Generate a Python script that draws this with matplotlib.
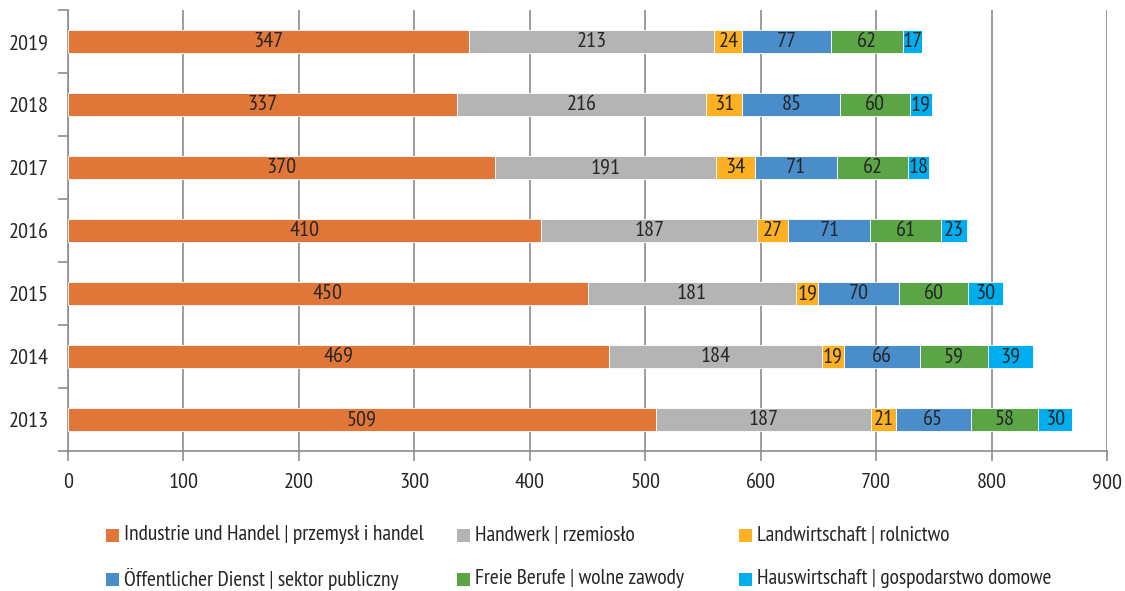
import matplotlib
matplotlib.use("Agg")
import matplotlib.pyplot as plt
from matplotlib import font_manager
from matplotlib.patches import Rectangle
import numpy as np

names = {f.name for f in font_manager.fontManager.ttflist}
prefs = ["PT Sans Narrow", "Fira Sans Condensed", "Roboto Condensed", "Asap Condensed",
         "Archivo Narrow", "Barlow Semi Condensed", "Cabin Condensed"]
fam = next((p for p in prefs if p in names), "DejaVu Sans")
plt.rcParams['font.family'] = [fam, 'DejaVu Sans']

years = ["2013", "2014", "2015", "2016", "2017", "2018", "2019"]
series_names = [
    "Industrie und Handel | przemysł i handel",
    "Handwerk | rzemiosło",
    "Landwirtschaft | rolnictwo",
    "Öffentlicher Dienst | sektor publiczny",
    "Freie Berufe | wolne zawody",
    "Hauswirtschaft | gospodarstwo domowe",
]
industrie = [509, 469, 450, 410, 370, 337, 347]
handwerk = [187, 184, 181, 187, 191, 216, 213]
landwirtschaft = [21, 19, 19, 27, 34, 31, 24]
oeffentlich = [65, 66, 70, 71, 71, 85, 77]
freie = [58, 59, 60, 61, 62, 60, 62]
haus = [30, 39, 30, 23, 18, 19, 17]
colors = ["#E07638", "#B4B4B4", "#FDB022", "#4A8DCB", "#5BA547", "#00AEEF"]

data = [industrie, handwerk, landwirtschaft, oeffentlich, freie, haus]

FS = 16
W, H = 1125, 591
fig = plt.figure(figsize=(W/100, H/100), dpi=100)
ax = fig.add_axes([68/W, 1-451/H, (1107-68)/W, (451-10)/H])

y = np.arange(len(years))
left = np.zeros(len(years))
txtc = "#262626"
for vals, c in zip(data, colors):
    vals = np.array(vals, dtype=float)
    ax.barh(y, vals, left=left, height=0.38, color=c, edgecolor="white", linewidth=0.6, zorder=3)
    for yi, (l, v) in enumerate(zip(left, vals)):
        ax.text(l + v/2, yi, f"{int(v)}", ha="center", va="center", fontsize=FS, color=txtc, zorder=4)
    left += vals

ax.set_xlim(0, 900)
ax.set_ylim(-0.5, len(years)-0.5)
ax.set_xticks(np.arange(0, 901, 100))
ax.tick_params(axis="x", labelsize=FS, colors="#8C8C8C", labelcolor=txtc, length=7, width=1.2, pad=9)
ax.set_yticks(np.arange(-0.5, len(years), 1.0))
ax.set_yticklabels([])
ax.tick_params(axis="y", which="major", length=7, width=1.2, colors="#8C8C8C")
ax.set_yticks(y, minor=True)
ax.set_yticklabels(years, minor=True)
ax.tick_params(axis="y", which="minor", length=0, labelsize=FS, labelcolor=txtc, pad=14)
ax.grid(axis="x", color="#8C8C8C", linewidth=1.2, zorder=0)
for s in ["top", "right"]:
    ax.spines[s].set_visible(False)
for s in ["left", "bottom"]:
    ax.spines[s].set_color("#8C8C8C")
    ax.spines[s].set_linewidth(1.2)

# legend: 3 columns x 2 rows
col_x = [106, 457, 739]
row_y = [535, 579]
sq = 13
for i, (name, c) in enumerate(zip(series_names, colors)):
    cx = col_x[i % 3]
    cy = row_y[i // 3]
    fig.patches.append(Rectangle((cx/W, 1-(cy+sq/2)/H), sq/W, sq/H, transform=fig.transFigure,
                                 facecolor=c, edgecolor="none"))
    fig.text((cx+sq+5)/W, 1-cy/H, name, ha="left", va="center", fontsize=FS-0.5, color=txtc)

fig.savefig("out.png", dpi=100)
